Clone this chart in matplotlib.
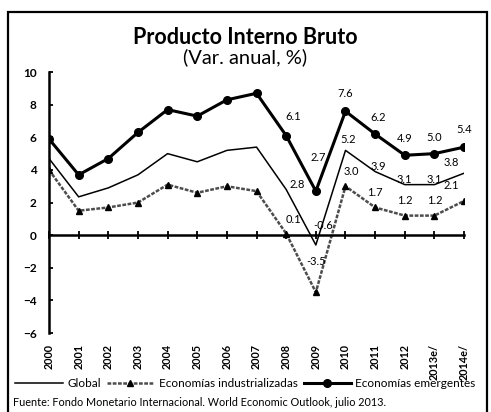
import matplotlib.pyplot as plt
import matplotlib.patches as patches

# datos (Var. anual, %)
anios = ["2000", "2001", "2002", "2003", "2004", "2005", "2006", "2007",
         "2008", "2009", "2010", "2011", "2012", "2013e/", "2014e/"]
global_ = [4.7, 2.35, 2.9, 3.7, 5.0, 4.5, 5.2, 5.4, 2.8, -0.6, 5.2, 3.9, 3.1, 3.1, 3.8]
industrializadas = [4.0, 1.5, 1.7, 2.0, 3.1, 2.6, 3.0, 2.7, 0.1, -3.5, 3.0, 1.7, 1.2, 1.2, 2.1]
emergentes = [5.9, 3.7, 4.7, 6.3, 7.7, 7.3, 8.3, 8.7, 6.1, 2.7, 7.6, 6.2, 4.9, 5.0, 5.4]

# desde qué año se etiquetan los valores
inicio_etiquetas = 8

# desplazamiento de las etiquetas (puntos)
offs_glo = [(8, 0), (5, 10), (2, 4), (2, 0), (0, 0), (0, 0), (-9, 4)]
offs_ind = [(5, 6), (0, 18), (4, 7), (0, 7), (0, 7), (0, 7), (-9, 7)]
offs_eme = [(5, 10), (2, 20), (0, 9), (2, 8), (0, 8), (0, 8), (0, 9)]

plt.rcParams['font.family'] = ['Lato', 'DejaVu Sans']

fig = plt.figure(figsize=(4.91, 4.12), dpi=100)
ax = fig.add_axes([0.0998, 0.1917, 0.8454, 0.6333])

x = list(range(len(anios)))

ax.plot(x, global_, color="black", lw=1.1, label="Global")
ax.plot(x, industrializadas, color="0.3", lw=1.8, ls=(0, (1.5, 0.6)),
        marker="^", markersize=5, markerfacecolor="black", markeredgecolor="black",
        label="Economías industrializadas")
ax.plot(x, emergentes, color="black", lw=2.2, marker="o", markersize=5.5,
        label="Economías emergentes")

for serie, offs in [(global_, offs_glo), (industrializadas, offs_ind), (emergentes, offs_eme)]:
    for i in range(inicio_etiquetas, len(anios)):
        ax.annotate(f"{serie[i]:.1f}", (x[i], serie[i]), xytext=offs[i - inicio_etiquetas],
                    textcoords="offset points", ha="center", va="bottom", fontsize=8)

ax.set_xlim(0, len(anios) - 1)
ax.set_ylim(-6, 10)
ax.set_yticks(range(-6, 11, 2))

# eje x en cero, etiquetas abajo
ax.spines["bottom"].set_position(("data", 0))
ax.spines["bottom"].set_linewidth(1.8)
ax.spines["left"].set_linewidth(1.8)
ax.spines["top"].set_visible(False)
ax.spines["right"].set_visible(False)
ax.set_xticks(x)
ax.set_xticklabels(anios, rotation=90, fontweight="bold", fontsize=7.8)
ax.tick_params(axis="x", direction="inout", length=6, width=1.3, pad=75)
ax.tick_params(axis="y", direction="in", length=3, width=1.3, pad=9)
for t in ax.get_yticklabels():
    t.set_fontweight("bold")
    t.set_fontsize(8.5)

fig.text(0.5, 0.91, "Producto Interno Bruto", ha="center", va="center",
         fontsize=15.5, fontweight="bold")
fig.text(0.5, 0.862, "(Var. anual, %)", ha="center", va="center", fontsize=14.5)

fig.legend(loc="center", bbox_to_anchor=(0.5, 0.068), ncol=3, frameon=False,
           fontsize=8.5, handlelength=4, handletextpad=0.4, columnspacing=0.5)

fig.text(0.026, 0.022, "Fuente: Fondo Monetario Internacional. World Economic Outlook, julio 2013.",
         ha="left", va="center", fontsize=7.8)

# marco
fig.patches.append(patches.Rectangle((0.016, -0.05), 0.976, 1.021, transform=fig.transFigure,
                                     fill=False, lw=1.6, edgecolor="black"))

fig.savefig("out.png", dpi=100)
